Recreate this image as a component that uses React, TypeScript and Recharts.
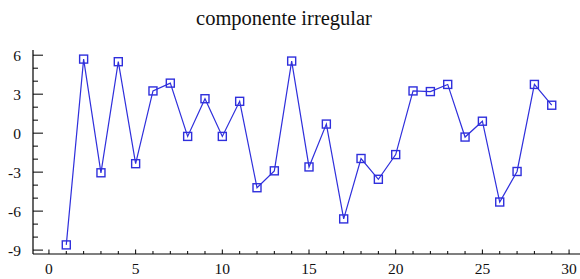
import React from 'react';
import { LineChart, Line, XAxis, YAxis } from 'recharts';

const periods = [1, 2, 3, 4, 5, 6, 7, 8, 9, 10, 11, 12, 13, 14, 15, 16, 17, 18, 19, 20, 21, 22, 23, 24, 25, 26, 27, 28, 29];
const irregular = [-8.6, 5.7, -3.05, 5.5, -2.35, 3.25, 3.85, -0.25, 2.65, -0.25, 2.45, -4.2, -2.9, 5.55, -2.6, 0.7, -6.6, -1.95, -3.55, -1.65, 3.25, 3.2, 3.75, -0.3, 0.92, -5.3, -2.95, 3.75, 2.15];
const xTicks = [0, 1, 2, 3, 4, 5, 6, 7, 8, 9, 10, 11, 12, 13, 14, 15, 16, 17, 18, 19, 20, 21, 22, 23, 24, 25, 26, 27, 28, 29, 30];
const yTicks = [-9, -8, -7, -6, -5, -4, -3, -2, -1, 0, 1, 2, 3, 4, 5, 6];
const title = 'componente irregular';

const data = periods.map((p, i) => ({ x: p, y: irregular[i] }));

const BLUE = '#2f2fdc';
const FONT = '"Liberation Serif", "DejaVu Serif", serif';

const XTick = (props: any) => {
  const { x, y, payload } = props;
  const major = payload.value % 5 === 0;
  return (
    <g>
      <line x1={x} x2={x} y1={y} y2={y - (major ? 4.5 : 3)} stroke="#000" strokeWidth={1} />
      {major && (
        <text x={x} y={y + 19.5} textAnchor="middle" fontFamily={FONT} fontSize={15.5} fill="#111">
          {payload.value}
        </text>
      )}
    </g>
  );
};

const YTick = (props: any) => {
  const { x, y, payload } = props;
  const major = payload.value % 3 === 0;
  return (
    <g>
      <line x1={x} x2={x + (major ? 10 : 5)} y1={y} y2={y} stroke="#000" strokeWidth={1} />
      {major && (
        <text x={x - 12} y={y + 5.5} textAnchor="end" fontFamily={FONT} fontSize={15.5} fill="#111">
          {payload.value}
        </text>
      )}
    </g>
  );
};

const SquareDot = (props: any) => {
  const { cx, cy, index } = props;
  if (cx == null || cy == null) return null;
  return (
    <rect key={index} x={cx - 4} y={cy - 4} width={8} height={8} fill="none" stroke={BLUE} strokeWidth={1.4} />
  );
};

export default function App() {
  return (
    <div style={{ position: 'absolute', left: 0, top: 0, width: 580, height: 279, background: '#fff' }}>
      <LineChart width={580} height={279} data={data} margin={{ top: 50, right: 0, bottom: 0, left: 0 }}>
        <text x={284} y={25} textAnchor="middle" fontFamily={FONT} fontSize={20.5} fill="#111">
          {title}
        </text>
        <XAxis
          dataKey="x"
          type="number"
          domain={[-0.92, 30.63]}
          ticks={xTicks}
          interval={0}
          allowDataOverflow
          height={25}
          tickSize={0}
          tickMargin={0}
          tickLine={false}
          axisLine={{ stroke: '#000', strokeWidth: 1.2 }}
          tick={<XTick />}
        />
        <YAxis
          type="number"
          domain={[-9.3, 6.4]}
          ticks={yTicks}
          interval={0}
          allowDataOverflow
          width={33}
          tickSize={0}
          tickMargin={0}
          tickLine={false}
          axisLine={{ stroke: '#000', strokeWidth: 1.2 }}
          tick={<YTick />}
        />
        <Line
          dataKey="y"
          type="linear"
          stroke={BLUE}
          strokeWidth={1.2}
          dot={<SquareDot />}
          activeDot={false}
          isAnimationActive={false}
        />
      </LineChart>
    </div>
  );
}
